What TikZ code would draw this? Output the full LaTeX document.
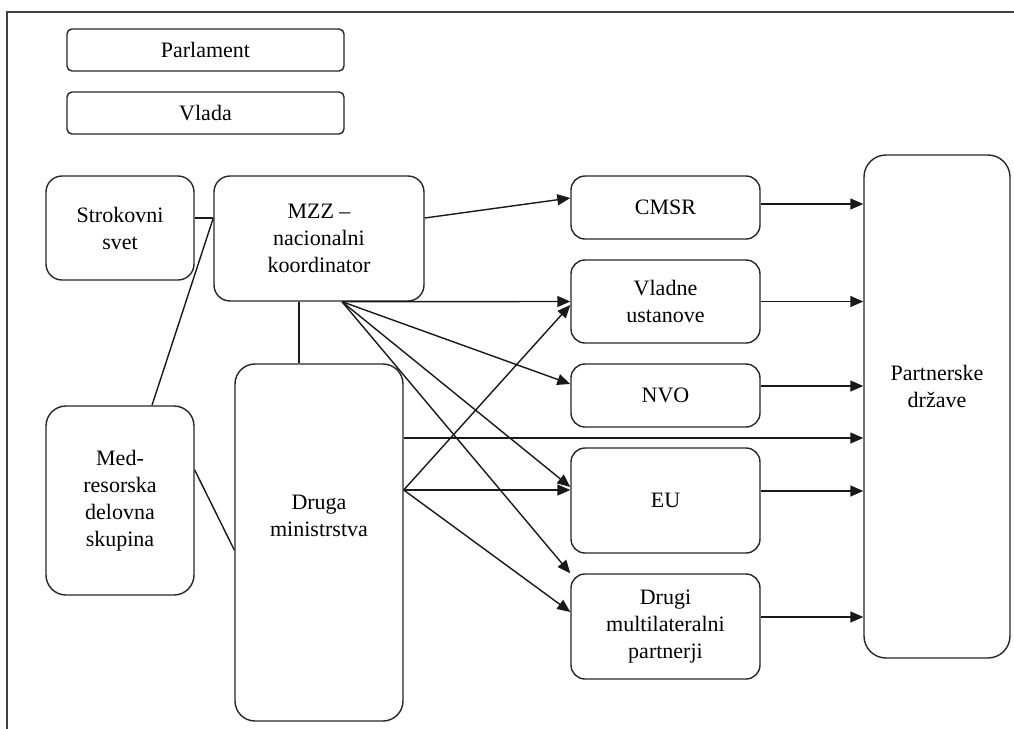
\documentclass[tikz,border=0pt]{standalone}
\usepackage{fontspec}
\setmainfont{Liberation Serif}
\usetikzlibrary{arrows.meta}

\tikzset{
	txt/.style = {align = center, inner sep = 0pt, font = \fontsize{11}{13.5}\selectfont},
	box/.style = {txt, draw = black!85, line width = 0.7pt, rounded corners = 5pt},
	bar/.style = {box, rounded corners = 2.5pt, minimum width = 138.5pt, minimum height = 21pt},
	frame/.style = {draw = black!75, line width = 1pt},
	link/.style = {draw = black!90, line width = 0.7pt},
	arr/.style = {link, -{Triangle[length = 6.5pt, width = 5.5pt]}}
}

\begin{document}
\begin{tikzpicture}[x = 0.5pt, y = -0.5pt]
	\useasboundingbox (0, 0) rectangle (1014, 729);
	% okvir
	\draw[frame] (7, 729) -- (7, 12) -- (1014, 12);

	\node[bar] (parl) at (205.5, 50) {Parlament};
	\node[bar] (vlada) at (205.5, 113) {Vlada};

	\node[box, rounded corners = 8pt, minimum width = 74pt, minimum height = 52pt] (strok) at (120, 228) {Strokovni\\svet};
	\node[box, rounded corners = 8pt, minimum width = 105pt, minimum height = 62.5pt] (mzz) at (319, 238.5) {MZZ –\\nacionalni\\koordinator};
	\node[box, rounded corners = 10pt, minimum width = 74pt, minimum height = 94.5pt] (med) at (120, 500.5) {Med-\\resorska\\delovna\\skupina};
	\node[box, rounded corners = 10pt, minimum width = 84pt, minimum height = 178.5pt,
		label = {[txt, yshift = 13.5pt]center:{Druga\\ministrstva}}] (druga) at (319, 542.5) {};

	% desni stolpec
	\foreach \name/\y/\h/\text in {cmsr/207.5/63/CMSR, vladne/301.5/83/{Vladne\\ustanove}, nvo/395.5/63/NVO,
		eu/500.5/105/EU, drugi/626.5/105/{Drugi\\multilateralni\\partnerji}}{
		\node[box, rounded corners = 7pt, minimum width = 94.5pt, minimum height = \h*0.5pt] (\name) at (665.5, \y) {\text};}

	\node[box, rounded corners = 11pt, minimum width = 73pt, minimum height = 251.5pt,
		label = {[txt, yshift = 10pt]center:{Partnerske\\države}}] (partner) at (937, 406.5) {};

	% povezave
	\draw[link] ([yshift = 5pt]strok.east) -- ([yshift = 5pt]strok.east -| mzz.west);
	\draw[link] ([yshift = 5pt]strok.east -| mzz.west) -- ([xshift = 16pt]med.north);
	\draw[link] ([yshift = 15.25pt]med.east) -- ([yshift = -3.75pt]druga.west);
	\draw[link] ([xshift = -10pt]mzz.south) -- ([xshift = -10pt]mzz.south |- druga.north);
	\draw[arr] ([yshift = 10.25pt]mzz.east) -- ([yshift = 4.75pt]cmsr.west);

	\coordinate (fan) at ([xshift = 11.5pt]mzz.south);
	\draw[arr] (fan) -- (vladne.west);
	\draw[arr] (fan) -- ([yshift = 5.75pt]nvo.west);
	\draw[arr] (fan) -- ([yshift = 6.75pt]eu.west);
	\draw[arr] (fan) -- (drugi.north west);

	\coordinate (dr) at ([yshift = 26.25pt]druga.east);
	\draw[arr] (dr) -- ([yshift = -1.75pt]vladne.west);
	\draw[arr] (dr) -- (dr -| eu.west);
	\draw[arr] (dr) -- ([yshift = 7.25pt]drugi.west);
	\draw[arr] ([yshift = 52.25pt]druga.east) -- ([yshift = 52.25pt]druga.east -| partner.west);

	\foreach \name/\s in {cmsr/1.75, vladne/0, nvo/4.75, eu/4.75, drugi/4.75}{
		\draw[arr] ([yshift = \s pt]\name.east) -- ([yshift = \s pt]\name.east -| partner.west);}
\end{tikzpicture}
\end{document}
